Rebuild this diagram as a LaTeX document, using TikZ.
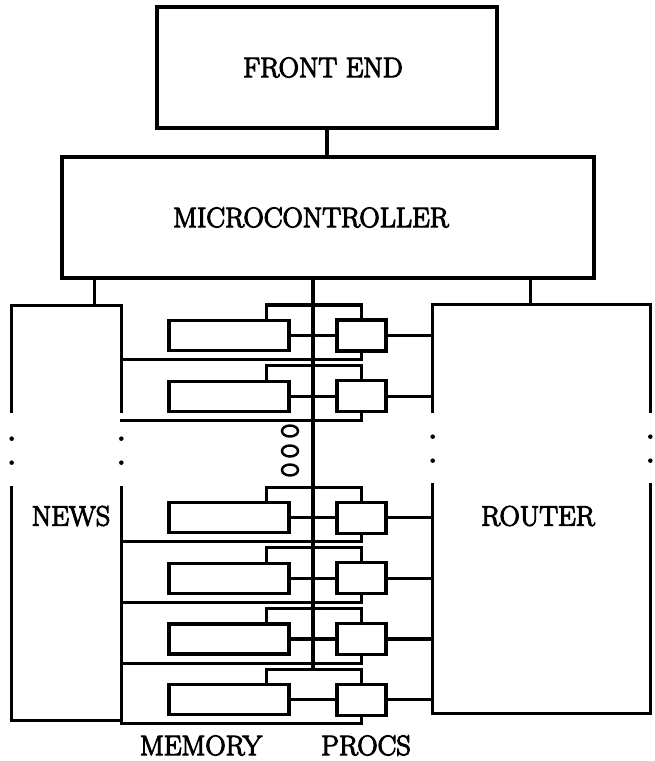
\documentclass[tikz,border=0pt]{standalone}
\usepackage{fontspec}
\usepackage{tikz}
\usetikzlibrary{positioning,calc,shapes.geometric}
\newfontfamily\boxfont{Latin Modern Roman}[FakeBold=4]

\begin{document}
\begin{tikzpicture}[
  x=0.02cm, y=-0.02cm,
  blk/.style={rectangle, draw, line width=1.8pt, inner sep=0pt},
  side/.style={rectangle, inner sep=0pt},
  mem/.style={blk, minimum width=2.4cm, minimum height=0.6cm},
  proc/.style={blk, minimum width=0.98cm, minimum height=0.62cm},
  oval/.style={ellipse, draw, line width=1.4pt, minimum width=0.32cm,
               minimum height=0.22cm, inner sep=0pt},
  wire/.style={line width=1.8pt, line cap=rect},
  lbl/.style={inner sep=0pt, font=\boxfont\fontsize{16}{19}\selectfont},
]
\useasboundingbox (0,0) rectangle (654,761);

% Top — front end / microcontroller
\node[blk, minimum width=6.8cm, minimum height=2.42cm]  (fe) at (327,67.5) {};
\node[blk, minimum width=10.64cm, minimum height=2.42cm] (mc) at (328,217.5) {};
\node[lbl] (felbl) at ([xshift=-0.08cm]fe.center) {FRONT END};
\node[lbl] (mclbl) at ([xshift=-0.34cm]mc.center) {MICROCONTROLLER};

% Side units (outlines drawn in pieces below)
\node[side, minimum width=2.18cm, minimum height=8.28cm] (news)   at (66.5,513) {};
\node[side, minimum width=4.34cm, minimum height=8.16cm] (router) at (541.5,509) {};
\node[lbl] (newslbl)   at ([xshift=0.09cm,yshift=-0.06cm]news.center) {NEWS};
\node[lbl] (routerlbl) at ([xshift=-0.07cm,yshift=-0.14cm]router.center) {ROUTER};

% NEWS outline, broken on both sides
\draw[wire] ([yshift=-2.12cm]news.north west) -- (news.north west) -- (news.north east)
            -- ([yshift=-2.12cm]news.north east);
\draw[wire] ([yshift=4.66cm]news.south west) -- (news.south west) -- (news.south east)
            -- ([yshift=4.66cm]news.south east);
\foreach \d in {2.66,3.14}{
  \fill ([yshift=-\d cm]news.north west) circle (1.3pt);
  \fill ([yshift=-\d cm]news.north east) circle (1.3pt);
}

% ROUTER outline, broken on both sides
\draw[wire] ([yshift=-2.14cm]router.north west) -- (router.north west) -- (router.north east)
            -- ([yshift=-2.14cm]router.north east);
\draw[wire] ([yshift=4.58cm]router.south west) -- (router.south west) -- (router.south east)
            -- ([yshift=4.58cm]router.south east);
\foreach \d in {2.64,3.12}{
  \fill ([yshift=-\d cm]router.north west) circle (1.3pt);
  \fill ([yshift=-\d cm]router.north east) circle (1.3pt);
}

% Rows — memory / proc pairs
\foreach \i in {0,1,3,4,5,6}{
  \pgfmathsetmacro{\yt}{305+60.7*\i}
  \coordinate (t\i) at (361.5,\yt);
  \node[mem]  (m\i) at (229,\yt+30.5) {};
  \node[proc] (p\i) at (361.5,\yt+30.5) {};
  \draw[wire] (m\i.east) -- (p\i.west);
  \draw[wire] (p\i.east) -- (p\i.east -| router.west);
  \draw[wire] ([xshift=-0.48cm]m\i.north east) |- (t\i) -- (p\i.north);
  \path (p\i.south) ++(0,7) coordinate (b\i);
  \draw[wire] (p\i.south) -- (b\i) -- (b\i -| news.east);
}

% Omitted rows
\node[oval] (o1) at (290,431) {};
\node[oval] (o2) at (290,451) {};
\node[oval] (o3) at (290,470) {};

% Connections
\draw[wire] (fe.south) -- (fe.south |- mc.north);
\draw[wire] ([xshift=0.68cm]mc.south west) coordinate (tapn) -- (tapn |- news.north);
\draw[wire] ([xshift=-1.3cm]mc.south east) coordinate (tapr) -- (tapr |- router.north);
\draw[wire] ([xshift=-0.3cm]mc.south) coordinate (tapb) -- (tapb |- t6);

% Labels
\node[lbl] (lmem)  at (201,745.5) {MEMORY};
\node[lbl] (lproc) at (366,745.5) {PROCS};
\end{tikzpicture}
\end{document}
